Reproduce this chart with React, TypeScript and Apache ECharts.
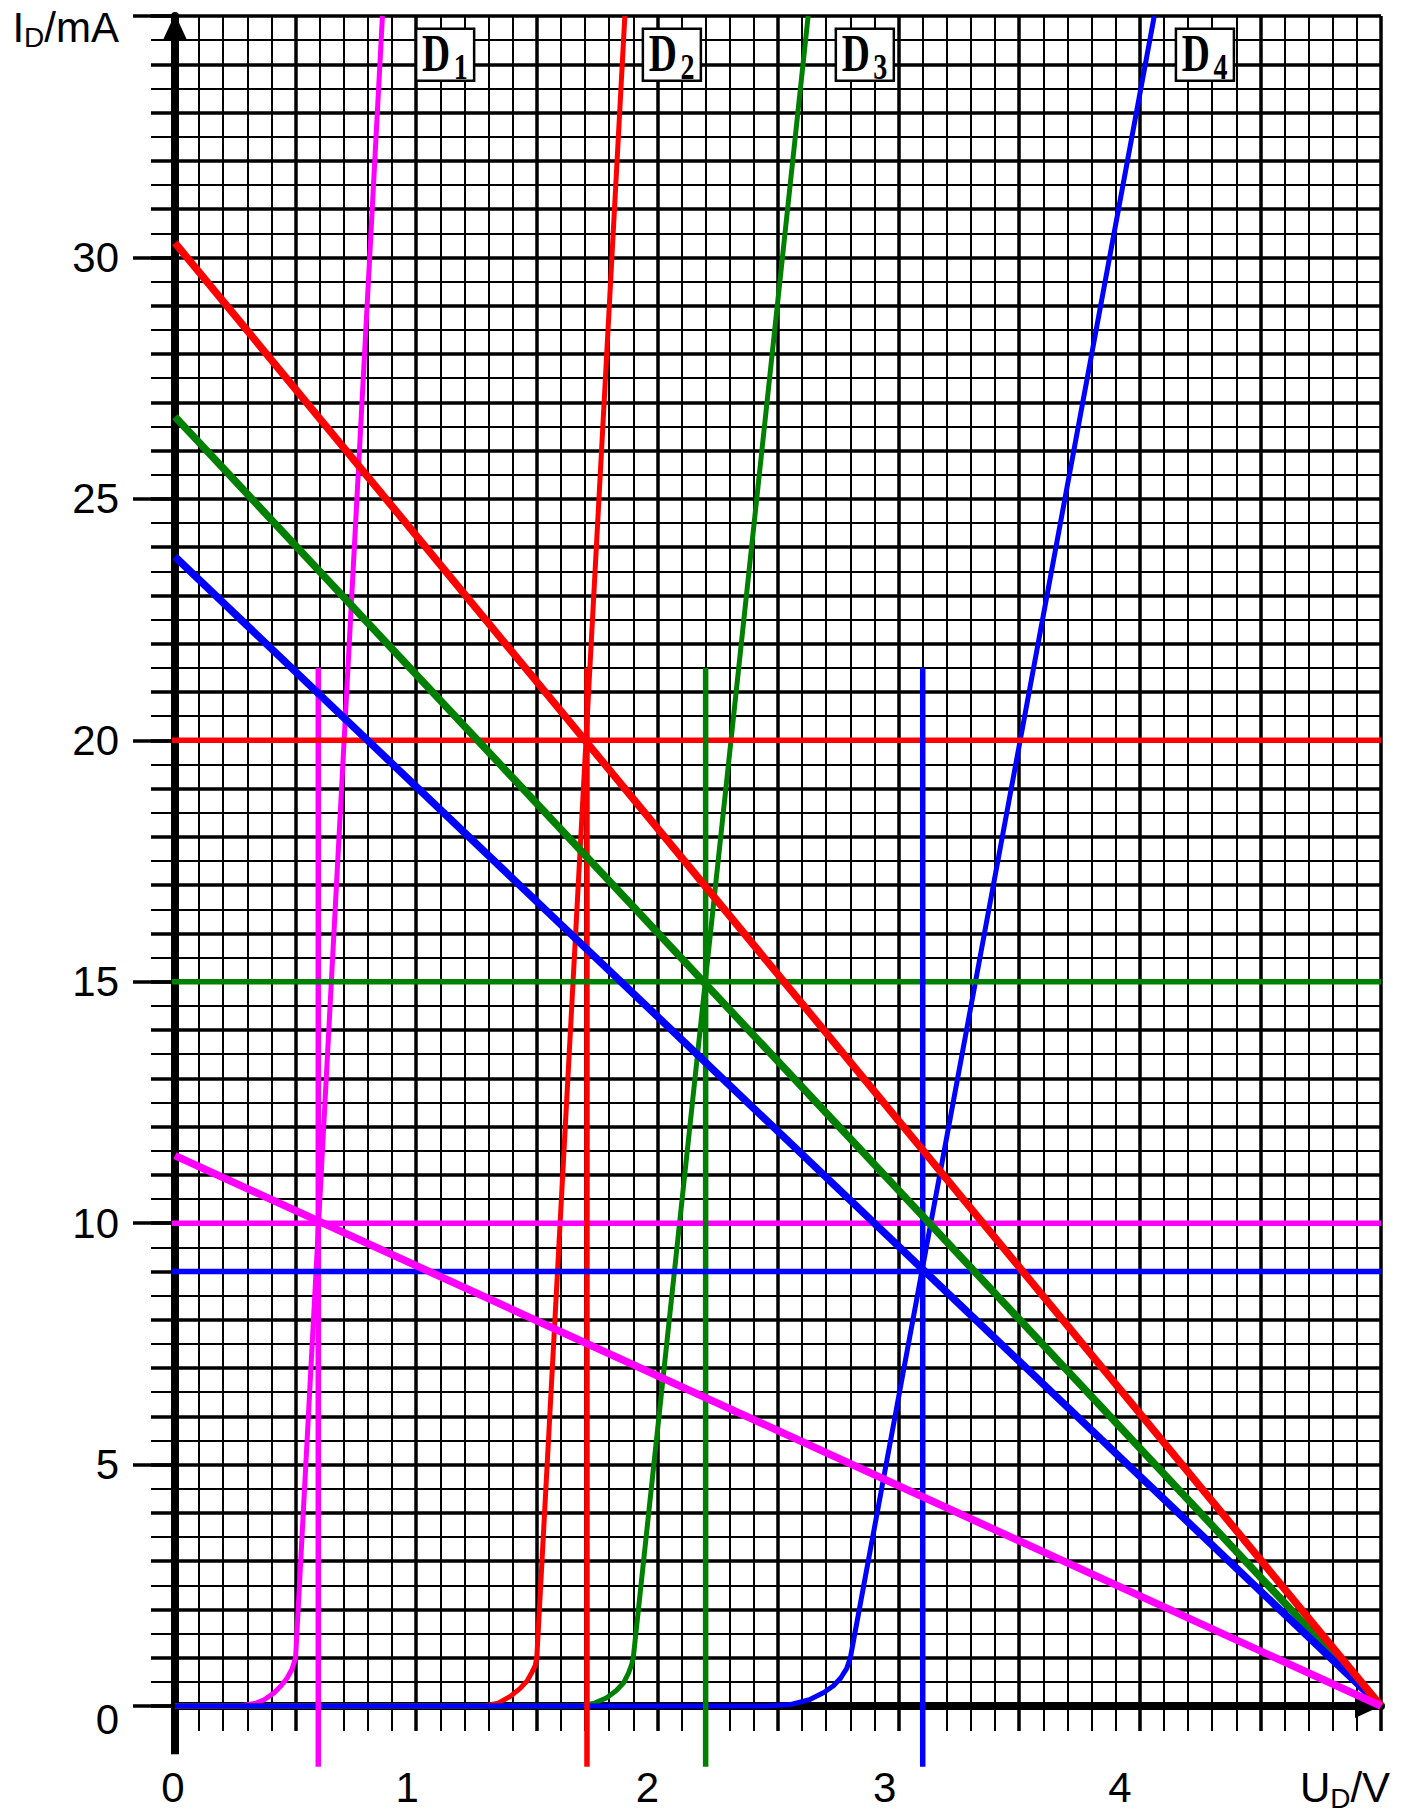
import React, { useEffect, useRef } from 'react';
import * as echarts from 'echarts';

// ---- axes ----
const uMin = 0;
const uMax = 5;
const iMin = 0;
const iMax = 35;
const xTickValues = [0, 1, 2, 3, 4, 5];
const xTickLabels = ['0', '1', '2', '3', '4'];
const xAxisTitle = ['U', 'D', '/V'];
const yTickValues = [0, 5, 10, 15, 20, 25, 30, 35];
const yTickLabels = ['0', '5', '10', '15', '20', '25', '30'];
const yAxisTitle = ['I', 'D', '/mA'];

// ---- diode characteristics (U in V, I in mA) ----
const d1U = [0, 0.27, 0.33, 0.37, 0.41, 0.44, 0.465, 0.485, 0.5, 0.86];
const d1I = [0, 0, 0.05, 0.13, 0.27, 0.42, 0.58, 0.76, 1.0, 35];
const d2U = [0, 1.28, 1.34, 1.39, 1.43, 1.46, 1.48, 1.493, 1.5, 1.865];
const d2I = [0, 0, 0.06, 0.2, 0.36, 0.52, 0.7, 0.83, 1.0, 35];
const d3U = [0, 1.68, 1.74, 1.79, 1.83, 1.86, 1.88, 1.893, 1.9, 2.625];
const d3I = [0, 0, 0.06, 0.17, 0.32, 0.48, 0.68, 0.85, 1.0, 35];
const d4U = [0, 2.45, 2.55, 2.63, 2.69, 2.73, 2.76, 2.785, 2.8, 4.06];
const d4I = [0, 0, 0.03, 0.13, 0.28, 0.42, 0.58, 0.78, 1.0, 35];
const diodeNames = ['1', '2', '3', '4'];
const diodeColors = ['#ff00ff', '#ff0000', '#008000', '#0000ff'];

// ---- load lines: supply voltage and short-circuit currents ----
const supplyU = 5;
const loadShortI = [11.4, 30.3, 26.7, 23.8];

// ---- operating points ----
const opU = [0.594, 1.708, 2.2, 3.1];
const opI = [10, 20, 15, 9];
const opHLineU = [-0.2, 5];
const opVLineI = [-1.26, 21.5];

// ---- axis extensions beyond origin ----
const axisExtU = -0.2;
const axisExtI = -1.0;

// ---- diode label anchors ----
const diodeLabelU = [1.12, 2.06, 2.86, 4.27];
const diodeLabelI = 34.2;

const SANS = '"Liberation Sans", Arial, sans-serif';
const SERIF = '"Liberation Serif", "Times New Roman", serif';

const xLabelShift = [2, 9, 10, 14, 20];

function zip(a: number[], b: number[]) {
  return a.map((v, k) => [v, b[k]]);
}

export default function App() {
  const ref = useRef<HTMLDivElement>(null);
  useEffect(() => {
    if (!ref.current) return;
    const chart = echarts.init(ref.current, undefined, { renderer: 'svg' });

    const diodes = [
      zip(d1U, d1I),
      zip(d2U, d2I),
      zip(d3U, d3I),
      zip(d4U, d4I),
    ];
    const series: any[] = [];
    const base = {
      type: 'line',
      showSymbol: false,
      symbol: 'none',
      clip: false,
      silent: true,
      animation: false,
    };
    // axis extensions
    series.push({ ...base, z: 1, data: [[0, axisExtI], [0, 0]], lineStyle: { color: '#000', width: 8 } });
    series.push({ ...base, z: 1, data: [[axisExtU, 0], [0, 0]], lineStyle: { color: '#000', width: 8 } });
    // diode curves
    diodes.forEach((d, k) => {
      series.push({ ...base, name: 'D' + diodeNames[k], z: 3, data: d, lineStyle: { color: diodeColors[k], width: 5 } });
    });
    // operating point lines
    opU.forEach((u, k) => {
      series.push({ ...base, z: 4, data: [[opHLineU[0], opI[k]], [opHLineU[1], opI[k]]], lineStyle: { color: diodeColors[k], width: 5.5 } });
      series.push({ ...base, z: 4, data: [[u, opVLineI[0]], [u, opVLineI[1]]], lineStyle: { color: diodeColors[k], width: 5.5 } });
    });
    // load lines
    const loadOrder = [2, 3, 1, 0];
    loadOrder.forEach((k) => {
      series.push({ ...base, z: 5, data: [[0, loadShortI[k]], [supplyU, 0]], lineStyle: { color: diodeColors[k], width: 7.5 } });
    });

    const xRich: any = {
      xn: { fontFamily: SANS, fontSize: 42, lineHeight: 42, color: '#000', verticalAlign: 'top' },
      xs: { fontFamily: SANS, fontSize: 28, lineHeight: 28, color: '#000', verticalAlign: 'top', padding: [18, 0, 0, 0] },
      xe: { fontFamily: SANS, fontSize: 42, lineHeight: 42, color: '#000', verticalAlign: 'top', padding: [0, 72, 0, 0] },
    };
    xLabelShift.forEach((s, k) => {
      xRich['x' + k] = { fontFamily: SANS, fontSize: 42, lineHeight: 42, color: '#000', verticalAlign: 'top', padding: [0, 2 * s, 0, 0] };
    });
    const yRich: any = {
      y: { fontFamily: SANS, fontSize: 42, lineHeight: 42, color: '#000' },
      y0: { fontFamily: SANS, fontSize: 42, lineHeight: 42, color: '#000', padding: [26, 0, 0, 0] },
      yn: { fontFamily: SANS, fontSize: 42, lineHeight: 42, color: '#000', verticalAlign: 'top', padding: [11, 0, 0, 0] },
      ys: { fontFamily: SANS, fontSize: 28, lineHeight: 28, color: '#000', verticalAlign: 'top', padding: [28, 0, 0, 0] },
    };

    const option: any = {
      animation: false,
      backgroundColor: '#fff',
      grid: { left: 175, right: 26, top: 16, bottom: 108, containLabel: false, outerBoundsMode: 'none' },
      xAxis: [
        {
          type: 'value',
          min: uMin,
          max: uMax,
          interval: 0.5,
          position: 'bottom',
          axisLine: {
            show: true,
            onZero: false,
            symbol: ['none', 'triangle'],
            symbolSize: [24, 26],
            symbolOffset: [0, -13],
            lineStyle: { color: '#000', width: 8 },
          },
          axisTick: { show: true, length: 25, lineStyle: { color: '#000', width: 3.5 } },
          minorTick: { show: true, splitNumber: 5, length: 25, lineStyle: { color: '#000', width: 2 } },
          splitLine: { show: true, lineStyle: { color: '#000', width: 3.5 } },
          minorSplitLine: { show: true, lineStyle: { color: '#000', width: 2 } },
          axisLabel: {
            show: true,
            margin: 60,
            showMinLabel: true,
            showMaxLabel: true,
            formatter: (v: number) => {
              const idx = xTickValues.findIndex((t) => Math.abs(t - v) < 1e-6);
              if (idx < 0) return '';
              if (idx === xTickLabels.length) {
                return `{xn|${xAxisTitle[0]}}{xs|${xAxisTitle[1]}}{xe|${xAxisTitle[2]}}`;
              }
              return `{x${idx}|${xTickLabels[idx]}}`;
            },
            rich: xRich,
          },
        },
      ],
      yAxis: [
        {
          type: 'value',
          min: iMin,
          max: iMax,
          interval: 1,
          position: 'left',
          axisLine: {
            show: true,
            onZero: false,
            symbol: ['none', 'triangle'],
            symbolSize: [24, 26],
            symbolOffset: [0, -11],
            lineStyle: { color: '#000', width: 8 },
          },
          axisTick: { show: true, length: 24, lineStyle: { color: '#000', width: 3.5 } },
          minorTick: { show: true, splitNumber: 2, length: 24, lineStyle: { color: '#000', width: 2 } },
          splitLine: { show: true, lineStyle: { color: '#000', width: 3.5 } },
          minorSplitLine: { show: true, lineStyle: { color: '#000', width: 2 } },
          axisLabel: { show: false },
        },
        {
          type: 'value',
          min: iMin,
          max: iMax,
          interval: 5,
          position: 'left',
          axisLine: { show: false },
          axisTick: { show: true, length: 42, lineStyle: { color: '#000', width: 3.5 } },
          splitLine: { show: false },
          axisLabel: {
            show: true,
            margin: 56,
            showMinLabel: true,
            showMaxLabel: true,
            formatter: (v: number) => {
              const idx = yTickValues.findIndex((t) => Math.abs(t - v) < 1e-6);
              if (idx < 0) return '';
              if (idx === yTickLabels.length) {
                return `{yn|${yAxisTitle[0]}}{ys|${yAxisTitle[1]}}{yn|${yAxisTitle[2]}}`;
              }
              if (idx === 0) return `{y0|${yTickLabels[idx]}}`;
              return `{y|${yTickLabels[idx]}}`;
            },
            rich: yRich,
          },
        },
      ],
      series,
    };
    chart.setOption(option);

    const elements: any[] = [];
    diodeLabelU.forEach((u, k) => {
      const p = chart.convertToPixel({ seriesIndex: 2 }, [u, diodeLabelI]) as number[];
      const cx = p[0];
      const cy = p[1];
      elements.push({
        type: 'rect',
        z: 100,
        shape: { x: cx - 29, y: cy - 26, width: 58, height: 52 },
        style: { fill: '#fff', stroke: '#000', lineWidth: 2.5 },
        silent: true,
      });
      elements.push({
        type: 'text',
        z: 101,
        x: cx - 9,
        y: cy - 1,
        scaleY: 1.35,
        silent: true,
        style: {
          text: 'D',
          fontFamily: SERIF,
          fontWeight: 'bold',
          fontSize: 39,
          fill: '#000',
          align: 'center',
          verticalAlign: 'middle',
          textAlign: 'center',
          textVerticalAlign: 'middle',
        },
      });
      elements.push({
        type: 'text',
        z: 101,
        x: cx + 15.5,
        y: cy + 12,
        scaleY: 1.3,
        silent: true,
        style: {
          text: diodeNames[k],
          fontFamily: SERIF,
          fontWeight: 'bold',
          fontSize: 28,
          fill: '#000',
          align: 'center',
          verticalAlign: 'middle',
          textAlign: 'center',
          textVerticalAlign: 'middle',
        },
      });
    });
    chart.setOption({ graphic: { elements } });

    return () => {
      chart.dispose();
    };
  }, []);

  return (
    <div
      ref={ref}
      style={{ position: 'absolute', left: 0, top: 0, width: 1407, height: 1814, background: '#fff' }}
    />
  );
}
